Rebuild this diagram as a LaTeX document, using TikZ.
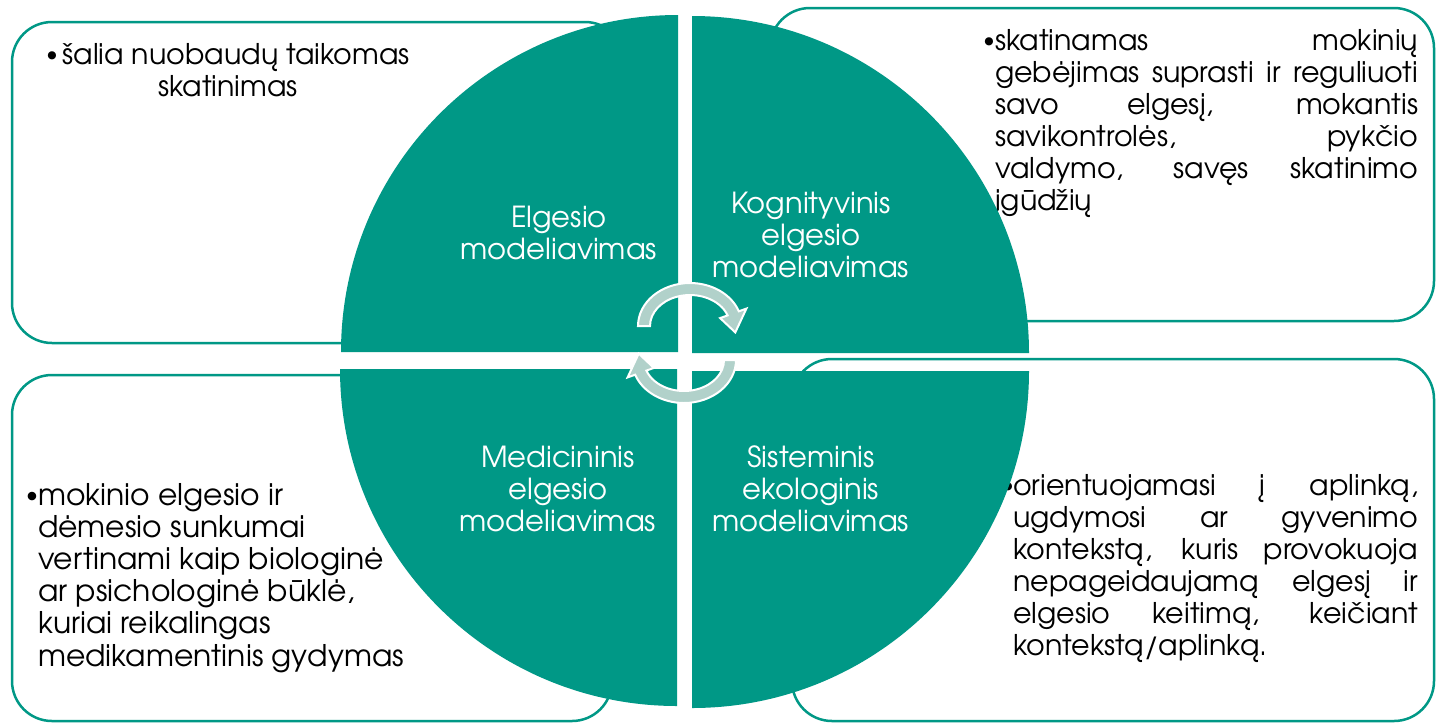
\documentclass[tikz,border=0pt]{standalone}
\usepackage{fontspec}
\setmainfont{TeX Gyre Adventor}
\definecolor{tealq}{HTML}{009886}
\definecolor{arrowc}{HTML}{B1D1CA}
\newcommand{\mybul}{\raisebox{3pt}{\scalebox{0.8}{\textbullet}}}
\begin{document}
\begin{tikzpicture}[x=1pt,y=-1pt,
  box/.style={draw=tealq, line width=2.5pt, rounded corners=40pt, fill=white},
  quad/.style={fill=tealq},
  qtext/.style={text=white, font=\fontsize{29}{32}\selectfont, inner sep=0pt, anchor=base},
  body/.style={font=\fontsize{28.5}{32}\selectfont, inner sep=0pt},
  bodyl/.style={font=\fontsize{29.8}{32.2}\selectfont, inner sep=0pt},
  carrow/.style={fill=arrowc, draw=white, line width=2pt, line join=miter}]
\useasboundingbox (0,0) rectangle (1440,724);
\fill[white] (0,0) rectangle (1440,724);
% outer boxes
\draw[box] (12,22) rectangle (625,343);
\draw[box] (770,8) rectangle (1434,321);
\draw[box] (12,375) rectangle (612,721);
\draw[box] (792,359) rectangle (1434,721);
% box texts
\node[body, anchor=base] (tltext) at (228,64) {\parbox[t]{440pt}{\centering\mybul\,šalia nuobaudų taikomas\\skatinimas}};
\node[body, anchor=base] (trbul) at (989,50) {\mybul};
\node[body, anchor=base west] (trtext) at (995,50) {\parbox[t]{423pt}{%
\makebox[423pt][s]{skatinamas mokinių}\\
\makebox[423pt][s]{gebėjimas suprasti ir reguliuoti}\\
\makebox[423pt][s]{savo elgesį, mokantis}\\
\makebox[423pt][s]{savikontrolės, pykčio}\\
\makebox[423pt][s]{valdymo, savęs skatinimo}\\
įgūdžių}};
\node[bodyl, anchor=base] (blbul) at (32,505) {\mybul};
\node[bodyl, anchor=base west] (bltext) at (38,505) {\parbox[t]{420pt}{%
mokinio elgesio ir\\
dėmesio sunkumai\\
vertinami kaip biologinė\\
ar psichologinė būklė,\\
kuriai reikalingas\\
medikamentinis gydymas}};
\node[body, anchor=base] (brbul) at (1008,495) {\mybul};
\node[body, anchor=base west] (brtext) at (1013,495) {\parbox[t]{405pt}{%
\makebox[405pt][s]{orientuojamasi į aplinką,}\\
\makebox[405pt][s]{ugdymosi ar gyvenimo}\\
\makebox[405pt][s]{kontekstą, kuris provokuoja}\\
\makebox[405pt][s]{nepageidaujamą elgesį ir}\\
\makebox[405pt][s]{elgesio keitimą, keičiant}\\
kontekstą/aplinką.}};
% quadrants
\fill[quad] (678,352) -- (341,352) arc[start angle=180, end angle=270, radius=337] -- cycle;
\fill[quad] (692,353) -- (692,16) arc[start angle=270, end angle=360, radius=337] -- cycle;
\fill[quad] (692,371) -- (1029,371) arc[start angle=0, end angle=90, radius=337] -- cycle;
\fill[quad] (677,369) -- (677,706) arc[start angle=90, end angle=180, radius=337] -- cycle;
% quadrant texts
\node[qtext] (q1a) at (559,227) {Elgesio};
\node[qtext] (q1b) at (559,259) {modeliavimas};
\node[qtext] (q2a) at (811,213) {Kognityvinis};
\node[qtext] (q2b) at (811,245) {elgesio};
\node[qtext] (q2c) at (811,277) {modeliavimas};
\node[qtext] (q3a) at (558,467) {Medicininis};
\node[qtext] (q3b) at (558,499) {elgesio};
\node[qtext] (q3c) at (558,531) {modeliavimas};
\node[qtext] (q4a) at (811,467) {Sisteminis};
\node[qtext] (q4b) at (811,499) {ekologinis};
\node[qtext] (q4c) at (811,531) {modeliavimas};
% circular arrows
\filldraw[carrow] (638,326) arc[start angle=180, end angle=340, x radius=52, y radius=43]
  -- (746.4,308.6) -- (735.3,332.4) -- (720.1,318.1) -- (727.6,315.4)
  arc[start angle=340, end angle=180, x radius=40, y radius=31] -- cycle;
\begin{scope}[rotate around={180:(687,343)}]
\filldraw[carrow] (638,326) arc[start angle=180, end angle=340, x radius=52, y radius=43]
  -- (746.4,308.6) -- (735.3,332.4) -- (720.1,318.1) -- (727.6,315.4)
  arc[start angle=340, end angle=180, x radius=40, y radius=31] -- cycle;
\end{scope}
\end{tikzpicture}
\end{document}
